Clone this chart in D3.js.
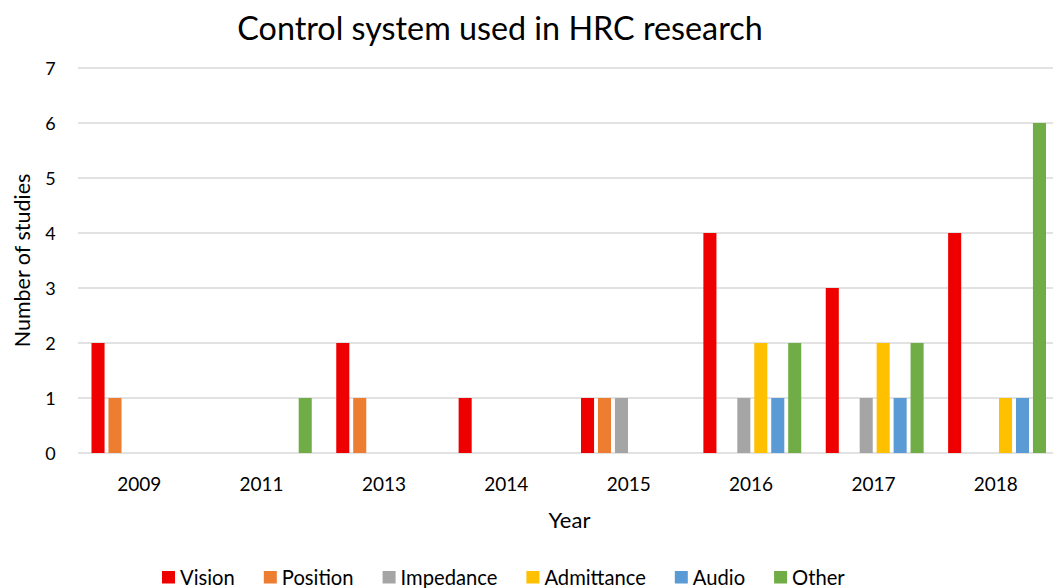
<!DOCTYPE html>
<html>
<head>
<meta charset="utf-8">
<script src="https://cdn.jsdelivr.net/npm/d3@7"></script>
<style>
  body { margin: 0; background: #fff; }
  svg text { font-family: Lato, "Open Sans", sans-serif; fill: #000; }
</style>
</head>
<body>
<svg id="chart" width="1053" height="588"></svg>
<script>
// chart data
let years = ["2009", "2011", "2013", "2014", "2015", "2016", "2017", "2018"];
let seriesNames = ["Vision", "Position", "Impedance", "Admittance", "Audio", "Other"];
let vision     = [2, 0, 2, 1, 1, 4, 3, 4];
let position   = [1, 0, 1, 0, 1, 0, 0, 0];
let impedance  = [0, 0, 0, 0, 1, 1, 1, 0];
let admittance = [0, 0, 0, 0, 0, 2, 2, 1];
let audio      = [0, 0, 0, 0, 0, 1, 1, 1];
let other      = [0, 1, 0, 0, 0, 2, 2, 6];
let yTicks = [0, 1, 2, 3, 4, 5, 6, 7];
let colors = ["#EE0000", "#ED7D31", "#A5A5A5", "#FFC000", "#5B9BD5", "#70AD47"];

let values = [vision, position, impedance, admittance, audio, other];

let svg = d3.select("#chart");
let plotLeft = 78, plotRight = 1058, plotTop = 68, plotBottom = 453;

let x = d3.scaleBand().domain(years).range([plotLeft + 1, plotRight]);
let x1 = d3.scaleBand().domain(seriesNames)
  .range([12.5, x.bandwidth() - 12]).paddingInner(0.23).paddingOuter(0);
let y = d3.scaleLinear().domain([0, 7]).range([plotBottom, plotTop]);

// grid lines
svg.append("g").selectAll("line").data(yTicks).join("line")
  .attr("x1", plotLeft).attr("x2", 1053)
  .attr("y1", d => y(d)).attr("y2", d => y(d))
  .attr("stroke", "#D9D9D9").attr("stroke-width", 1.5);

// y tick labels
svg.append("g").selectAll("text").data(yTicks).join("text")
  .attr("x", 50.5).attr("y", d => y(d) + 6.5)
  .attr("text-anchor", "middle")
  .style("font-size", "18px")
  .text(d => d);

// bars
seriesNames.forEach((name, i) => {
  svg.append("g").attr("class", "series-" + name)
    .selectAll("rect").data(values[i].map((v, j) => ({year: years[j], v: v})))
    .join("rect")
    .attr("x", d => x(d.year) + x1(name))
    .attr("width", x1.bandwidth())
    .attr("y", d => y(d.v))
    .attr("height", d => y(0) - y(d.v))
    .attr("fill", colors[i]);
});

// x labels
svg.append("g").selectAll("text").data(years).join("text")
  .attr("x", d => x(d) + x.bandwidth() / 2 - 1)
  .attr("y", 490.5)
  .attr("text-anchor", "middle")
  .style("font-size", "19px")
  .text(d => d);

// title
svg.append("text")
  .attr("x", 500).attr("y", 40)
  .attr("text-anchor", "middle")
  .style("font-size", "32.3px")
  .text("Control system used in HRC research");

// axis titles
svg.append("text")
  .attr("transform", "translate(30," + (plotTop + plotBottom) / 2 + ") rotate(-90)")
  .attr("text-anchor", "middle")
  .style("font-size", "21.5px")
  .text("Number of studies");

svg.append("text")
  .attr("x", 569.5).attr("y", 528)
  .attr("text-anchor", "middle")
  .style("font-size", "22px")
  .text("Year");

// legend
let legend = svg.append("g").attr("transform", "translate(162,0)");
let lx = 0;
seriesNames.forEach((name, i) => {
  let item = legend.append("g").attr("transform", "translate(" + lx + ",0)");
  item.append("rect")
    .attr("x", 0).attr("y", 571).attr("width", 13).attr("height", 12.5)
    .attr("fill", colors[i]);
  let t = item.append("text")
    .attr("x", 18).attr("y", 585)
    .style("font-size", "20.2px")
    .text(name);
  lx += 18 + t.node().getComputedTextLength() + 29;
});
</script>
</body>
</html>
